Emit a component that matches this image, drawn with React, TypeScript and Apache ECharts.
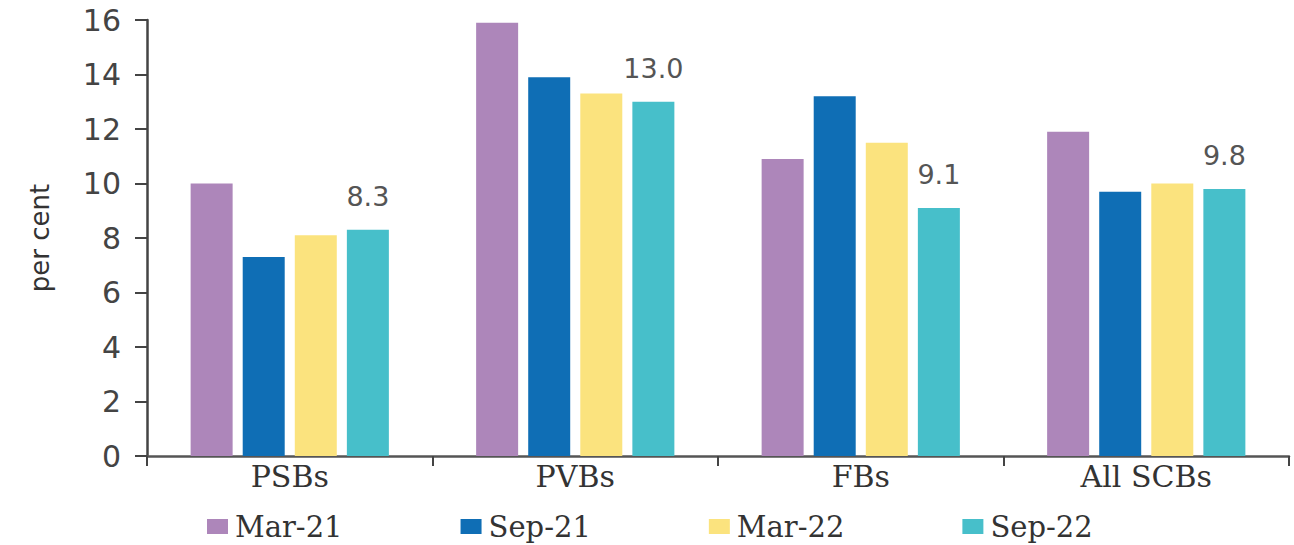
import React, { useEffect, useRef } from "react";
import * as echarts from "echarts";

// Bank groups on the category axis
const categories = ["PSBs", "PVBs", "FBs", "All SCBs"];

// Period series (per cent)
const seriesNames = ["Mar-21", "Sep-21", "Mar-22", "Sep-22"];
const mar21 = [10.0, 15.9, 10.9, 11.9];
const sep21 = [7.3, 13.9, 13.2, 9.7];
const mar22 = [8.1, 13.3, 11.5, 10.0];
const sep22 = [8.3, 13.0, 9.1, 9.8];

const colors = ["#AD86BA", "#0F6EB5", "#FBE37E", "#47BFCA"];

const yTicks = { min: 0, max: 16, interval: 2 };

const SANS = "DejaVu Sans";
const SERIF = "DejaVu Serif";

export default function App() {
  const ref = useRef<HTMLDivElement>(null);

  useEffect(() => {
    if (!ref.current) return;
    const chart = echarts.init(ref.current, null, { renderer: "svg" });
    const values = [mar21, sep21, mar22, sep22];

    chart.setOption({
      animation: false,
      backgroundColor: "#ffffff",
      color: colors,
      grid: { left: 147, right: 5, top: 20, bottom: 89, containLabel: false },
      legend: {
        data: seriesNames,
        left: 207,
        top: 512,
        padding: 0,
        itemWidth: 21,
        itemHeight: 15,
        itemGap: 118,
        icon: "rect",
        textStyle: {
          fontFamily: SERIF,
          fontSize: 29,
          color: "#333",
          width: 115,
          padding: [0, 0, 0, 2],
        },
      },
      xAxis: {
        type: "category",
        data: categories,
        axisLine: { lineStyle: { color: "#555", width: 2.5 } },
        axisTick: { show: true, length: 10, lineStyle: { color: "#444", width: 2 } },
        axisLabel: {
          fontFamily: SERIF,
          fontSize: 30,
          color: "#333",
          margin: 5,
        },
      },
      yAxis: {
        type: "value",
        min: yTicks.min,
        max: yTicks.max,
        interval: yTicks.interval,
        name: "per cent",
        nameLocation: "middle",
        nameGap: 94,
        nameTextStyle: { fontFamily: SANS, fontSize: 26, color: "#333" },
        axisLine: { show: true, lineStyle: { color: "#444", width: 2.5 } },
        axisTick: { show: true, length: 12, lineStyle: { color: "#444", width: 2 } },
        axisLabel: {
          fontFamily: SANS,
          fontSize: 30,
          color: "#444",
          margin: 26,
        },
        splitLine: { show: false },
      },
      series: seriesNames.map((name, i) => ({
        name,
        type: "bar",
        data: values[i],
        barWidth: 42,
        barGap: "24%",
        label:
          i === 3
            ? {
                show: true,
                position: "top",
                distance: 20,
                fontFamily: SANS,
                fontSize: 27,
                color: "#555",
                formatter: (p: any) => Number(p.value).toFixed(1),
              }
            : { show: false },
      })),
    });

    return () => chart.dispose();
  }, []);

  return (
    <div
      ref={ref}
      style={{ position: "fixed", left: 0, top: 0, width: 1294, height: 545 }}
    />
  );
}
